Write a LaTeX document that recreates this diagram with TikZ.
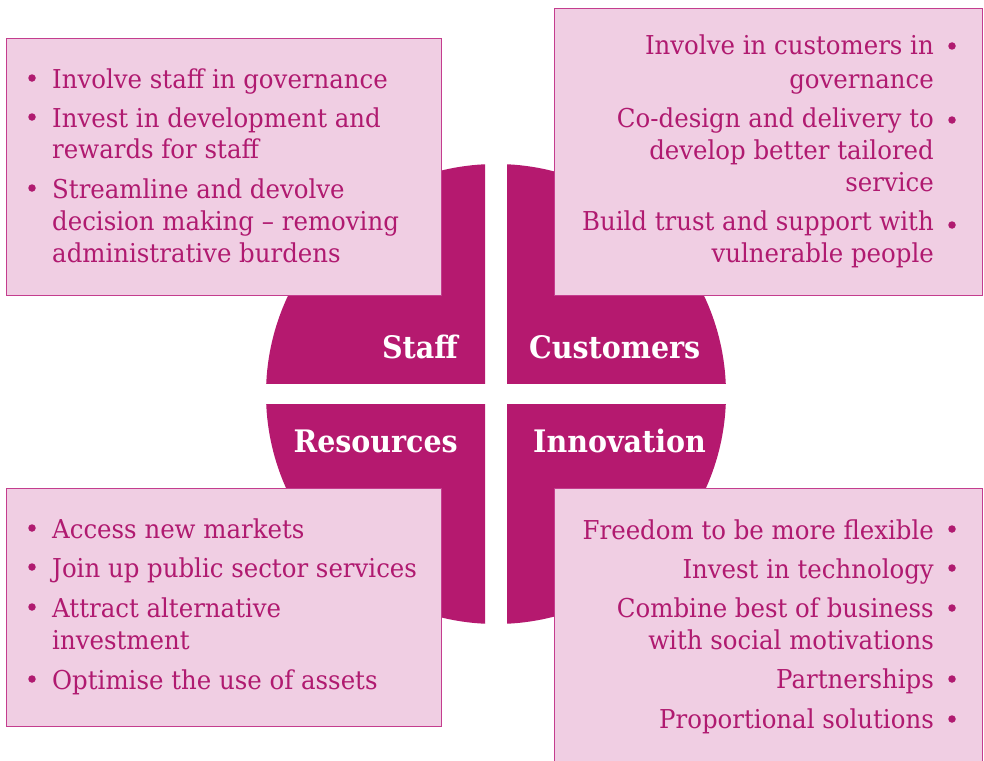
\documentclass[tikz,border=0pt]{standalone}
\usepackage{fontspec}
\setmainfont{DejaVu Serif}[FakeStretch=0.94]
\newfontfamily\headfont{DejaVu Serif}[FakeStretch=0.92]
\definecolor{mag}{HTML}{B5196F}
\definecolor{boxfill}{HTML}{F0CEE3}
\definecolor{boxline}{HTML}{C43D8E}
\definecolor{txt}{HTML}{B01A70}
\begin{document}
\begin{tikzpicture}[x=1pt,y=-1pt,
  panel/.style={fill=boxfill,draw=boxline,line width=0.9pt},
  item/.style={inner sep=0pt,text=txt,font=\fontsize{26}{30}\selectfont},
  itemL/.style={item,anchor=base west},
  itemR/.style={item,anchor=base east},
  head/.style={inner sep=0pt,text=white,font=\headfont\bfseries\fontsize{31}{36}\selectfont},
  dot/.style={circle,fill=txt,inner sep=0pt,minimum size=7.5pt}]
\useasboundingbox (0,0) rectangle (984,760);
\clip (0,0) rectangle (984,760);
% circle quadrants
\begin{scope}\clip (0,0) rectangle (485,383);\fill[mag] (496,394) circle[radius=230];\end{scope}
\begin{scope}\clip (507,0) rectangle (984,383);\fill[mag] (496,394) circle[radius=230];\end{scope}
\begin{scope}\clip (0,404) rectangle (485,760);\fill[mag] (496,394) circle[radius=230];\end{scope}
\begin{scope}\clip (507,404) rectangle (984,760);\fill[mag] (496,394) circle[radius=230];\end{scope}
% panels
\node[panel,inner sep=0pt,minimum width=435pt,minimum height=257pt,anchor=north west] (tl) at (6,38) {};
\node[panel,inner sep=0pt,minimum width=428pt,minimum height=287pt,anchor=north west] (tr) at (554,8) {};
\node[panel,inner sep=0pt,minimum width=435pt,minimum height=238pt,anchor=north west] (bl) at (6,488) {};
\node[panel,inner sep=0pt,minimum width=428pt,minimum height=290pt,anchor=north west] (br) at (554,488) {};
% headings
\node[head,anchor=base east] (staff) at (458,358) {Staff};
\node[head,anchor=base west] (cust) at (529,358) {Customers};
\node[head,anchor=base east] (res) at (458,452) {Resources};
\node[head,anchor=base west] (innov) at (533,452) {Innovation};
% TL
\node[itemL] (tl1) at (52,88) {Involve staff in governance};
\node[itemL] (tl2) at (52,127) {Invest in development and};
\node[itemL] (tl3) at (52,158) {rewards for staff};
\node[itemL] (tl4) at (52,198) {Streamline and devolve};
\node[itemL] (tl5) at (52,230) {decision making – removing};
\node[itemL] (tl6) at (52,262) {administrative burdens};
\node[dot] (tlb1) at (32,78) {};
\node[dot] (tlb2) at (32,117) {};
\node[dot] (tlb3) at (32,188) {};
% TR
\node[itemR] (tr1) at (934,55) {Involve in customers in};
\node[itemR] (tr2) at (934,88) {governance};
\node[itemR] (tr3) at (934,127) {Co-design and delivery to};
\node[itemR] (tr4) at (934,159) {develop better tailored};
\node[itemR] (tr5) at (934,191) {service};
\node[itemR] (tr6) at (934,230) {Build trust and support with};
\node[itemR] (tr7) at (934,262) {vulnerable people};
\node[dot] (trb1) at (952,46) {};
\node[dot] (trb2) at (952,120) {};
\node[dot] (trb3) at (952,225) {};
% BL
\node[itemL] (bl1) at (52,538) {Access new markets};
\node[itemL] (bl2) at (52,577) {Join up public sector services};
\node[itemL] (bl3) at (52,617) {Attract alternative};
\node[itemL] (bl4) at (52,649) {investment};
\node[itemL] (bl5) at (52,689) {Optimise the use of assets};
\node[dot] (blb1) at (32,528) {};
\node[dot] (blb2) at (32,567) {};
\node[dot] (blb3) at (32,607) {};
\node[dot] (blb4) at (32,679) {};
% BR
\node[itemR] (br1) at (934,539) {Freedom to be more flexible};
\node[itemR] (br2) at (934,578) {Invest in technology};
\node[itemR] (br3) at (934,617) {Combine best of business};
\node[itemR] (br4) at (934,649) {with social motivations};
\node[itemR] (br5) at (934,688) {Partnerships};
\node[itemR] (br6) at (934,728) {Proportional solutions};
\node[dot] (brb1) at (952,529) {};
\node[dot] (brb2) at (952,568) {};
\node[dot] (brb3) at (952,608) {};
\node[dot] (brb4) at (952,679) {};
\node[dot] (brb5) at (952,719) {};
\end{tikzpicture}
\end{document}
